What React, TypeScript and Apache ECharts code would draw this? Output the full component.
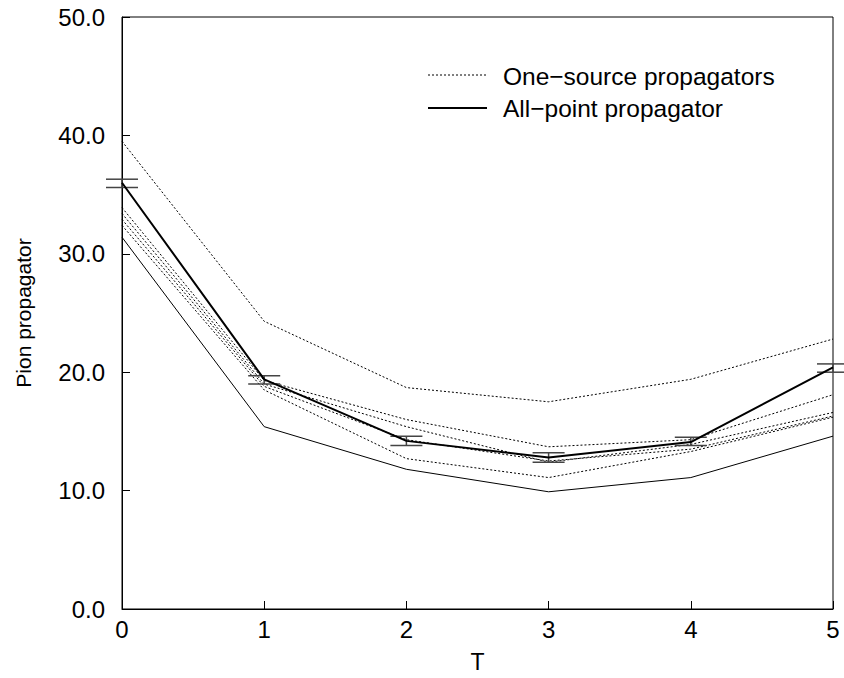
import React, { useEffect, useRef } from "react";
import * as echarts from "echarts";

const tValues = [0, 1, 2, 3, 4, 5];
const yTicks = [0, 10, 20, 30, 40, 50];

const oneSourceA = [39.5, 24.3, 18.7, 17.5, 19.4, 22.8];
const oneSourceB = [33.9, 19.3, 16.0, 13.7, 14.3, 18.1];
const oneSourceC = [33.4, 19.0, 15.4, 12.4, 13.9, 16.6];
const oneSourceD = [32.9, 18.8, 14.3, 12.5, 13.5, 16.3];
const oneSourceE = [32.4, 18.5, 12.7, 11.1, 13.3, 16.2];
const lowerBound = [31.4, 15.4, 11.8, 9.9, 11.1, 14.6];

const allPoint = [36.0, 19.4, 14.2, 12.8, 14.1, 20.4];
const allPointLow = [35.6, 19.0, 13.8, 12.4, 13.8, 20.0];
const allPointHigh = [36.3, 19.7, 14.6, 13.2, 14.5, 20.7];

const legendLabels = ["One\u2212source propagators", "All\u2212point propagator"];
const FONT = "Liberation Sans, Arial, Helvetica, sans-serif";

const pairs = (ys: number[]) => tValues.map((t, i) => [t, ys[i]]);

export default function App() {
  const ref = useRef<HTMLDivElement>(null);
  useEffect(() => {
    if (!ref.current) return;
    const chart = echarts.init(ref.current, null, { renderer: "svg" });
    const dotted = (ys: number[]) => ({
      type: "line",
      name: legendLabels[0],
      data: pairs(ys),
      symbol: "none",
      lineStyle: { color: "#000", width: 1, type: [2, 2] },
      itemStyle: { color: "#000" },
      z: 2,
    });
    chart.setOption({
      animation: false,
      backgroundColor: "#fff",
      grid: {
        left: 122,
        right: 11,
        top: 17,
        bottom: 68,
        show: true,
        borderColor: "#000",
        borderWidth: 1,
      },
      graphic: [
        {
          type: "line",
          shape: { x1: 428, y1: 75, x2: 487, y2: 75 },
          style: { stroke: "#000", lineWidth: 1, lineDash: [2, 2] },
        },
        {
          type: "text",
          x: 503,
          y: 76,
          style: {
            text: legendLabels[0],
            fontFamily: FONT,
            fontSize: 24.5,
            fill: "#000",
            verticalAlign: "middle",
          },
        },
        {
          type: "line",
          shape: { x1: 428, y1: 108, x2: 487, y2: 108 },
          style: { stroke: "#000", lineWidth: 2 },
        },
        {
          type: "text",
          x: 503,
          y: 108,
          style: {
            text: legendLabels[1],
            fontFamily: FONT,
            fontSize: 24.5,
            fill: "#000",
            verticalAlign: "middle",
          },
        },
      ],
      xAxis: {
        type: "value",
        min: 0,
        max: 5,
        interval: 1,
        name: "T",
        nameLocation: "middle",
        nameGap: 41,
        nameTextStyle: { fontFamily: FONT, fontSize: 23, color: "#000" },
        axisLine: { show: true, lineStyle: { color: "#000", width: 1 } },
        axisTick: { show: true, inside: true, length: 8, lineStyle: { color: "#000" } },
        axisLabel: {
          fontFamily: FONT,
          fontSize: 24,
          color: "#000",
          margin: 8,
          formatter: (v: number) => String(v),
        },
        splitLine: { show: false },
      },
      yAxis: {
        type: "value",
        min: yTicks[0],
        max: yTicks[yTicks.length - 1],
        interval: 10,
        name: "Pion propagator",
        nameLocation: "middle",
        nameRotate: 90,
        nameGap: 88,
        nameTextStyle: { fontFamily: FONT, fontSize: 21, color: "#000" },
        axisLine: { show: true, lineStyle: { color: "#000", width: 1 } },
        axisTick: { show: true, inside: true, length: 8, lineStyle: { color: "#000" } },
        axisLabel: {
          fontFamily: FONT,
          fontSize: 24,
          color: "#000",
          margin: 17,
          formatter: (v: number) => v.toFixed(1),
        },
        splitLine: { show: false },
      },
      series: [
        dotted(oneSourceA),
        dotted(oneSourceB),
        dotted(oneSourceC),
        dotted(oneSourceD),
        dotted(oneSourceE),
        {
          type: "line",
          name: "lower",
          data: pairs(lowerBound),
          symbol: "none",
          lineStyle: { color: "#000", width: 1 },
          z: 2,
        },
        {
          type: "line",
          name: legendLabels[1],
          data: pairs(allPoint),
          symbol: "none",
          lineStyle: { color: "#000", width: 2 },
          itemStyle: { color: "#000" },
          z: 4,
        },
        {
          type: "custom",
          name: "errors",
          data: tValues.map((t, i) => [t, allPointLow[i], allPointHigh[i]]),
          z: 3,
          renderItem: (params: any, api: any) => {
            const x = api.value(0);
            const lo = api.coord([x, api.value(1)]);
            const hi = api.coord([x, api.value(2)]);
            const hw = 16;
            const style = { stroke: "#444", lineWidth: 1.5 };
            return {
              type: "group",
              children: [
                { type: "line", shape: { x1: lo[0], y1: lo[1], x2: hi[0], y2: hi[1] }, style },
                { type: "line", shape: { x1: lo[0] - hw, y1: lo[1], x2: lo[0] + hw, y2: lo[1] }, style },
                { type: "line", shape: { x1: hi[0] - hw, y1: hi[1], x2: hi[0] + hw, y2: hi[1] }, style },
              ],
            };
          },
        },
      ],
    });
    return () => chart.dispose();
  }, []);
  return (
    <div
      ref={ref}
      style={{ position: "fixed", left: 0, top: 0, width: 844, height: 678, background: "#fff" }}
    />
  );
}
